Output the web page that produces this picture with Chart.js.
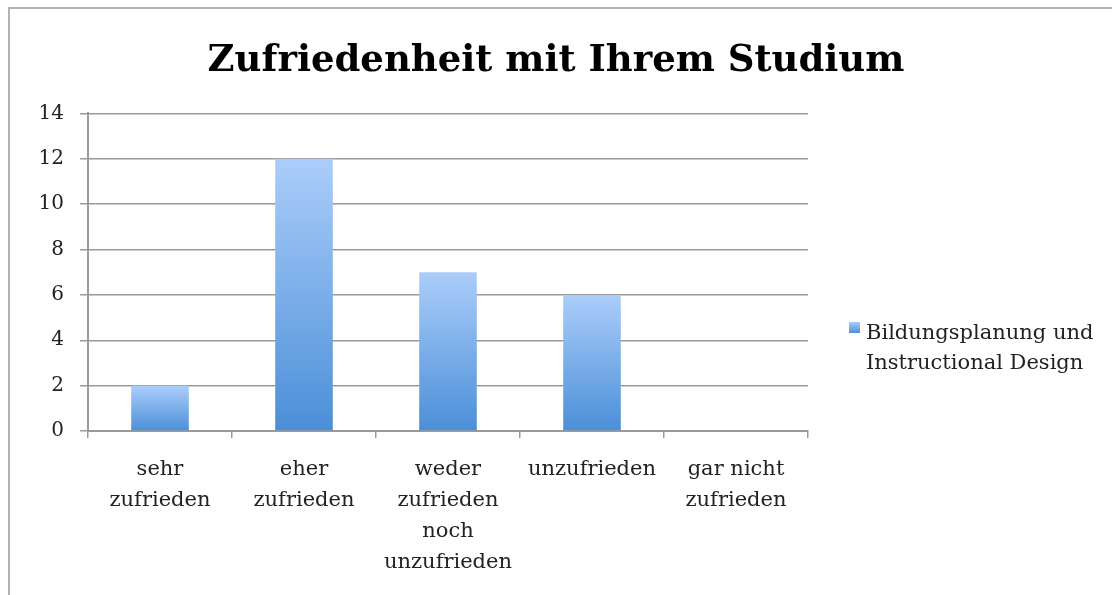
<!DOCTYPE html>
<html>
<head>
<meta charset="utf-8">
<script src="https://cdn.jsdelivr.net/npm/chart.js@4"></script>
<style>
    body { margin: 0; background: #fff; overflow: hidden; }
    #wrap { position: relative; width: 1112px; height: 595px; }
    #frame { position: absolute; left: 8px; top: 7px; width: 1200px; height: 700px; border: 2px solid #b3b3b3; }
    #c { position: absolute; left: 0; top: 0; }
</style>
</head>
<body>
<div id="wrap">
    <div id="frame"></div>
    <canvas id="c" width="1112" height="595"></canvas>
</div>
<script>
// data
const categories = [
    ['sehr', 'zufrieden'],
    ['eher', 'zufrieden'],
    ['weder', 'zufrieden', 'noch', 'unzufrieden'],
    ['unzufrieden'],
    ['gar nicht', 'zufrieden']
];
const values = [2, 12, 7, 6, 0];
const seriesName = 'Bildungsplanung und Instructional Design';
const legendLines = ['Bildungsplanung und', 'Instructional Design'];
const yTicks = [0, 2, 4, 6, 8, 10, 12, 14];

const serif = "'DejaVu Serif', 'Liberation Serif', serif";

// gradient per bar, light at the top, darker at the base
function barFill(ctx) {
    const chart = ctx.chart;
    const area = chart.chartArea;
    if (!area || ctx.dataIndex === undefined) return '#7fb0ea';
    const y = chart.scales.y;
    const top = y.getPixelForValue(values[ctx.dataIndex]);
    const base = y.getPixelForValue(0);
    if (base - top < 1) return '#7fb0ea';
    const g = chart.ctx.createLinearGradient(0, top, 0, base);
    g.addColorStop(0, '#abcdfa');
    g.addColorStop(1, '#4b8fd8');
    return g;
}

// legend on the right, wrapped on two lines like the original
const sideLegend = {
    id: 'sideLegend',
    afterDraw(chart) {
        const c = chart.ctx;
        const x = chart.chartArea.right + 41;
        const y = 337;
        c.save();
        const g = c.createLinearGradient(0, y - 15, 0, y - 4);
        g.addColorStop(0, '#abcdfa');
        g.addColorStop(1, '#4b8fd8');
        c.fillStyle = g;
        c.fillRect(x, y - 15, 11, 11);
        c.fillStyle = '#222';
        c.font = '21px ' + serif;
        c.textBaseline = 'alphabetic';
        legendLines.forEach((t, i) => c.fillText(t, x + 17, y + 2 + i * 30));
        c.restore();
    }
};

new Chart(document.getElementById('c'), {
    type: 'bar',
    data: {
        labels: categories,
        datasets: [{
            label: seriesName,
            data: values,
            backgroundColor: barFill,
            barPercentage: 0.4,
            categoryPercentage: 1
        }]
    },
    options: {
        responsive: false,
        animation: false,
        layout: { padding: 0 },
        plugins: {
            legend: { display: false },
            tooltip: { enabled: false },
            title: {
                display: true,
                text: 'Zufriedenheit mit Ihrem Studium',
                color: '#000',
                font: { family: serif, size: 37, weight: 'bold', lineHeight: 1.2 },
                padding: { top: 39, bottom: 30 }
            }
        },
        scales: {
            x: {
                afterFit: s => { s.height = 164; },
                grid: { drawOnChartArea: false, color: '#9a9a9a', lineWidth: 1.5, tickLength: 7, offset: true },
                border: { color: '#9a9a9a', width: 2 },
                ticks: {
                    color: '#222',
                    padding: 16,
                    maxRotation: 0,
                    autoSkip: false,
                    font: { family: serif, size: 21, lineHeight: 1.48 }
                }
            },
            y: {
                min: 0,
                max: 14,
                afterFit: s => { s.width = 88; },
                afterBuildTicks: s => { s.ticks = yTicks.map(v => ({ value: v })); },
                grid: { color: '#9a9a9a', lineWidth: 1.5, tickLength: 8 },
                border: { color: '#9a9a9a', width: 2 },
                ticks: {
                    color: '#222',
                    padding: 16,
                    font: { family: serif, size: 20 }
                }
            },
            // empty right axis that only reserves room for the legend
            side: {
                position: 'right',
                afterFit: s => { s.width = 304; },
                grid: { display: false },
                border: { display: false },
                ticks: { display: false }
            }
        }
    },
    plugins: [sideLegend]
});
</script>
</body>
</html>
